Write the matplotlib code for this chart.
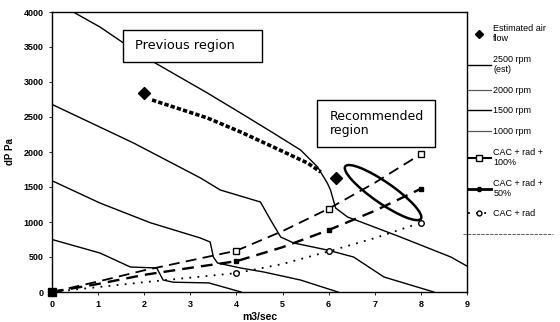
import numpy as np
import matplotlib
matplotlib.use('Agg')
import matplotlib.pyplot as plt
from matplotlib.lines import Line2D
from matplotlib.patches import Ellipse, Rectangle
from matplotlib.transforms import ScaledTranslation

plt.rcParams['font.family'] = ['Liberation Sans Narrow', 'Liberation Sans', 'DejaVu Sans']

# fan curves
rpm2500_x = [0.46, 1.04, 1.52, 2.2, 3.37, 4.09, 4.8, 5.39, 5.76, 5.97, 6.04, 6.15, 6.41, 6.7, 7.5, 8.65, 9.0]
rpm2500_y = [4000, 3786, 3571, 3286, 2843, 2557, 2271, 2029, 1786, 1557, 1457, 1200, 1071, 1000, 800, 500, 370]

rpm2000_x = [0, 1.77, 3.22, 3.65, 4.52, 4.74, 4.96, 5.24, 5.97, 6.54, 7.2, 8.28]
rpm2000_y = [2680, 2128, 1629, 1457, 1286, 1029, 786, 700, 600, 500, 214, 0]

rpm1500_x = [0, 1.04, 2.13, 3.22, 3.43, 3.5, 3.59, 4.09, 4.59, 5.39, 6.2]
rpm1500_y = [1590, 1271, 990, 771, 714, 500, 414, 343, 286, 171, 0]

rpm1000_x = [0, 1.04, 1.7, 2.27, 2.41, 2.63, 3.4, 4.1]
rpm1000_y = [750, 557, 357, 343, 171, 140, 130, 0]

# estimated air flow
est_x = [2.0, 2.17, 3.37, 4.09, 4.8, 5.54, 5.83, 6.15]
est_y = [2843, 2743, 2486, 2286, 2071, 1843, 1714, 1629]

# system curves
cac_x = [0, 1, 2, 3, 4, 5, 6, 7, 8]
cac100_y = [0, 150, 310, 450, 590, 870, 1190, 1560, 1970]
cac50_y = [0, 115, 245, 345, 440, 640, 885, 1160, 1475]
cacrad_y = [0, 70, 140, 205, 270, 400, 580, 770, 990]
marker_idx = [0, 4, 6, 8]

fig = plt.figure(figsize=(5.6, 3.22), dpi=100)
ax = fig.add_axes([52 / 560, 30 / 322, 415 / 560, 280 / 322])

for xs, ys in [(rpm2500_x, rpm2500_y), (rpm2000_x, rpm2000_y),
               (rpm1500_x, rpm1500_y), (rpm1000_x, rpm1000_y)]:
    ax.plot(xs, ys, color='black', lw=1.0, clip_on=True)

ax.plot(cac_x, cac100_y, color='black', lw=1.3, dashes=(6, 3.5),
        marker='s', ms=4, mfc='white', mec='black', markevery=marker_idx)
ax.plot(cac_x, cac50_y, color='black', lw=1.7, dashes=(5, 3),
        marker='s', ms=3.5, mfc='black', mec='black', markevery=marker_idx)
ax.plot(cac_x, cacrad_y, color='black', lw=1.3, dashes=(1, 3.5),
        marker='o', ms=4, mfc='white', mec='black', markevery=marker_idx[1:])
ax.plot([0], [0], marker='s', ms=6, color='black', clip_on=False, zorder=5)

ax.plot(est_x[1:-1], est_y[1:-1], color='black', lw=2.6, dashes=(1.2, 0.6))
ax.plot([est_x[0], est_x[-1]], [est_y[0], est_y[-1]], ls='none', marker='D',
        ms=6, color='black')

# recommended region ellipse (size in inches, centred in data coords)
ell = Ellipse((0, 0), 0.92, 0.21, angle=-34.7, fill=False, ec='black', lw=1.8,
              transform=fig.dpi_scale_trans + ScaledTranslation(7.18, 1420, ax.transData))
ax.add_artist(ell)

# annotation boxes
ax.add_patch(Rectangle((0.171, 0.821), 0.335, 0.115, transform=ax.transAxes,
                       fc='white', ec='black', lw=1, zorder=4))
ax.text(0.200, 0.879, 'Previous region', transform=ax.transAxes,
        family='DejaVu Sans', fontsize=9.3, ha='left', va='center', zorder=5)
ax.add_patch(Rectangle((0.639, 0.518), 0.284, 0.168, transform=ax.transAxes,
                       fc='white', ec='black', lw=1, zorder=4))
ax.text(0.670, 0.602, 'Recommended\nregion', transform=ax.transAxes,
        family='DejaVu Sans', fontsize=9.0, ha='left', va='center',
        linespacing=1.15, zorder=5)

ax.set_xlim(0, 9)
ax.set_ylim(0, 4000)
ax.set_xticks(range(0, 10))
ax.set_yticks(range(0, 4001, 500))
ax.tick_params(labelsize=6.5, length=2, width=0.6, pad=4)
for lab in ax.get_xticklabels() + ax.get_yticklabels():
    lab.set_fontweight('bold')
for s in ax.spines.values():
    s.set_linewidth(1.0)
ax.set_xlabel('m3/sec', fontsize=7.5, fontweight='bold', labelpad=2)
ax.set_ylabel('dP Pa', fontsize=7, fontweight='bold', labelpad=6)

handles = [
    Line2D([], [], ls='none', marker='D', ms=4, color='black'),
    Line2D([], [], color='black', lw=1.0),
    Line2D([], [], color='0.35', lw=0.9),
    Line2D([], [], color='black', lw=1.0),
    Line2D([], [], color='0.35', lw=0.9),
    Line2D([], [], color='black', lw=1.5, marker='s', ms=4, mfc='white'),
    Line2D([], [], color='black', lw=2.0, marker='o', ms=3, mfc='black'),
    Line2D([], [], color='black', lw=1.3, dashes=(1, 3.5), marker='o', ms=3.5, mfc='white'),
]
labels = ['Estimated air\nflow', '2500 rpm\n(est)', '2000 rpm', '1500 rpm',
          '1000 rpm', 'CAC + rad +\n100%', 'CAC + rad +\n50%', 'CAC + rad']
fig.legend(handles, labels, loc='upper left', bbox_to_anchor=(468 / 560, 1 - 24 / 322),
           frameon=False, fontsize=6.5, handlelength=2.5, handletextpad=0.3,
           borderpad=0, borderaxespad=0, labelspacing=1.28)
fig.add_artist(Line2D([463 / 560, 553 / 560], [1 - 234 / 322, 1 - 234 / 322],
                      color='0.4', lw=0.8, ls=(0, (3, 1))))

fig.savefig('out.png', dpi=100)
